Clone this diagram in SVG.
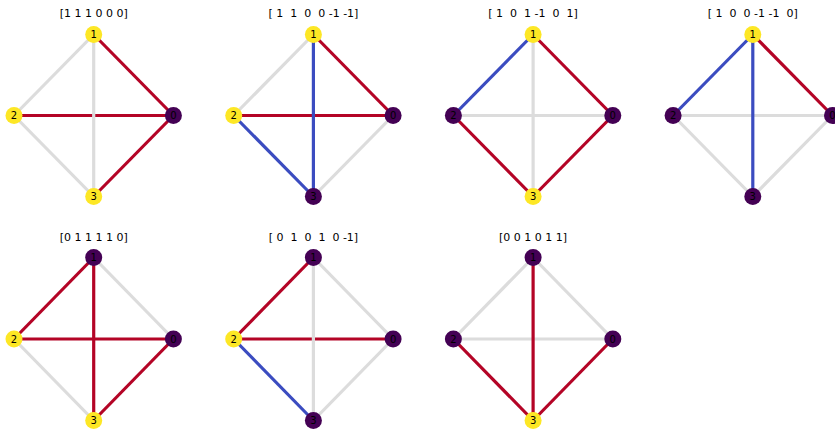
<svg xmlns="http://www.w3.org/2000/svg" width="835" height="431" viewBox="0 0 835 431">
<style>
.t{font-family:"DejaVu Sans",sans-serif;font-size:11px;fill:#000;text-anchor:middle;white-space:pre}
.l{font-family:"DejaVu Sans",sans-serif;font-size:10px;fill:#000;text-anchor:middle}
.e{stroke-width:3.2;fill:none}
.g{stroke:#dcdcdc}
.r{stroke:#b40426}
.b{stroke:#3b4cc0}
.y{fill:#fde725}
.p{fill:#440154}
</style>
<rect width="835" height="431" fill="#fff"/>
<text class="t" x="93.7" y="16.5" xml:space="preserve">[1 1 1 0 0 0]</text>
<text class="t" x="313.4" y="16.5" xml:space="preserve">[ 1  1  0  0 -1 -1]</text>
<text class="t" x="533.1" y="16.5" xml:space="preserve">[ 1  0  1 -1  0  1]</text>
<text class="t" x="752.8" y="16.5" xml:space="preserve">[ 1  0  0 -1 -1  0]</text>
<text class="t" x="93.7" y="240.5" xml:space="preserve">[0 1 1 1 1 0]</text>
<text class="t" x="313.4" y="240.5" xml:space="preserve">[ 0  1  0  1  0 -1]</text>
<text class="t" x="533.1" y="240.5" xml:space="preserve">[0 0 1 0 1 1]</text>
<g id="connectors">
<g transform="translate(93.7,115.5)">
<line class="e r" x1="79.7" y1="0" x2="0" y2="-81"/>
<line class="e r" x1="79.7" y1="0" x2="-79.7" y2="0"/>
<line class="e r" x1="79.7" y1="0" x2="0" y2="81"/>
<line class="e g" x1="0" y1="-81" x2="-79.7" y2="0"/>
<line class="e g" x1="0" y1="-81" x2="0" y2="81"/>
<line class="e g" x1="-79.7" y1="0" x2="0" y2="81"/>
</g>
<g transform="translate(313.4,115.5)">
<line class="e r" x1="79.7" y1="0" x2="0" y2="-81"/>
<line class="e r" x1="79.7" y1="0" x2="-79.7" y2="0"/>
<line class="e g" x1="79.7" y1="0" x2="0" y2="81"/>
<line class="e g" x1="0" y1="-81" x2="-79.7" y2="0"/>
<line class="e b" x1="0" y1="-81" x2="0" y2="81"/>
<line class="e b" x1="-79.7" y1="0" x2="0" y2="81"/>
</g>
<g transform="translate(533.1,115.5)">
<line class="e r" x1="79.7" y1="0" x2="0" y2="-81"/>
<line class="e g" x1="79.7" y1="0" x2="-79.7" y2="0"/>
<line class="e r" x1="79.7" y1="0" x2="0" y2="81"/>
<line class="e b" x1="0" y1="-81" x2="-79.7" y2="0"/>
<line class="e g" x1="0" y1="-81" x2="0" y2="81"/>
<line class="e r" x1="-79.7" y1="0" x2="0" y2="81"/>
</g>
<g transform="translate(752.8,115.5)">
<line class="e r" x1="79.7" y1="0" x2="0" y2="-81"/>
<line class="e g" x1="79.7" y1="0" x2="-79.7" y2="0"/>
<line class="e g" x1="79.7" y1="0" x2="0" y2="81"/>
<line class="e b" x1="0" y1="-81" x2="-79.7" y2="0"/>
<line class="e b" x1="0" y1="-81" x2="0" y2="81"/>
<line class="e g" x1="-79.7" y1="0" x2="0" y2="81"/>
</g>
<g transform="translate(93.7,339)">
<line class="e g" x1="79.7" y1="0" x2="0" y2="-81.5"/>
<line class="e r" x1="79.7" y1="0" x2="-79.7" y2="0"/>
<line class="e r" x1="79.7" y1="0" x2="0" y2="81.5"/>
<line class="e r" x1="0" y1="-81.5" x2="-79.7" y2="0"/>
<line class="e r" x1="0" y1="-81.5" x2="0" y2="81.5"/>
<line class="e g" x1="-79.7" y1="0" x2="0" y2="81.5"/>
</g>
<g transform="translate(313.4,339)">
<line class="e g" x1="79.7" y1="0" x2="0" y2="-81.5"/>
<line class="e r" x1="79.7" y1="0" x2="-79.7" y2="0"/>
<line class="e g" x1="79.7" y1="0" x2="0" y2="81.5"/>
<line class="e r" x1="0" y1="-81.5" x2="-79.7" y2="0"/>
<line class="e g" x1="0" y1="-81.5" x2="0" y2="81.5"/>
<line class="e b" x1="-79.7" y1="0" x2="0" y2="81.5"/>
</g>
<g transform="translate(533.1,339)">
<line class="e g" x1="79.7" y1="0" x2="0" y2="-81.5"/>
<line class="e g" x1="79.7" y1="0" x2="-79.7" y2="0"/>
<line class="e r" x1="79.7" y1="0" x2="0" y2="81.5"/>
<line class="e g" x1="0" y1="-81.5" x2="-79.7" y2="0"/>
<line class="e r" x1="0" y1="-81.5" x2="0" y2="81.5"/>
<line class="e r" x1="-79.7" y1="0" x2="0" y2="81.5"/>
</g>
</g>
<g id="p1">
<g id="p1n0"><circle class="p" cx="173.4" cy="115.5" r="8.5"/><text class="l" x="173.4" y="119">0</text></g>
<g id="p1n1"><circle class="y" cx="93.7" cy="34.5" r="8.5"/><text class="l" x="93.7" y="38">1</text></g>
<g id="p1n2"><circle class="y" cx="14" cy="115.5" r="8.5"/><text class="l" x="14" y="119">2</text></g>
<g id="p1n3"><circle class="y" cx="93.7" cy="196.5" r="8.5"/><text class="l" x="93.7" y="200">3</text></g>
</g>
<g id="p2">
<g id="p2n0"><circle class="p" cx="393.1" cy="115.5" r="8.5"/><text class="l" x="393.1" y="119">0</text></g>
<g id="p2n1"><circle class="y" cx="313.4" cy="34.5" r="8.5"/><text class="l" x="313.4" y="38">1</text></g>
<g id="p2n2"><circle class="y" cx="233.7" cy="115.5" r="8.5"/><text class="l" x="233.7" y="119">2</text></g>
<g id="p2n3"><circle class="p" cx="313.4" cy="196.5" r="8.5"/><text class="l" x="313.4" y="200">3</text></g>
</g>
<g id="p3">
<g id="p3n0"><circle class="p" cx="612.8" cy="115.5" r="8.5"/><text class="l" x="612.8" y="119">0</text></g>
<g id="p3n1"><circle class="y" cx="533.1" cy="34.5" r="8.5"/><text class="l" x="533.1" y="38">1</text></g>
<g id="p3n2"><circle class="p" cx="453.4" cy="115.5" r="8.5"/><text class="l" x="453.4" y="119">2</text></g>
<g id="p3n3"><circle class="y" cx="533.1" cy="196.5" r="8.5"/><text class="l" x="533.1" y="200">3</text></g>
</g>
<g id="p4">
<g id="p4n0"><circle class="p" cx="832.5" cy="115.5" r="8.5"/><text class="l" x="832.5" y="119">0</text></g>
<g id="p4n1"><circle class="y" cx="752.8" cy="34.5" r="8.5"/><text class="l" x="752.8" y="38">1</text></g>
<g id="p4n2"><circle class="p" cx="673.1" cy="115.5" r="8.5"/><text class="l" x="673.1" y="119">2</text></g>
<g id="p4n3"><circle class="p" cx="752.8" cy="196.5" r="8.5"/><text class="l" x="752.8" y="200">3</text></g>
</g>
<g id="p5">
<g id="p5n0"><circle class="p" cx="173.4" cy="339" r="8.5"/><text class="l" x="173.4" y="342.5">0</text></g>
<g id="p5n1"><circle class="p" cx="93.7" cy="257.5" r="8.5"/><text class="l" x="93.7" y="261">1</text></g>
<g id="p5n2"><circle class="y" cx="14" cy="339" r="8.5"/><text class="l" x="14" y="342.5">2</text></g>
<g id="p5n3"><circle class="y" cx="93.7" cy="420.5" r="8.5"/><text class="l" x="93.7" y="424">3</text></g>
</g>
<g id="p6">
<g id="p6n0"><circle class="p" cx="393.1" cy="339" r="8.5"/><text class="l" x="393.1" y="342.5">0</text></g>
<g id="p6n1"><circle class="p" cx="313.4" cy="257.5" r="8.5"/><text class="l" x="313.4" y="261">1</text></g>
<g id="p6n2"><circle class="y" cx="233.7" cy="339" r="8.5"/><text class="l" x="233.7" y="342.5">2</text></g>
<g id="p6n3"><circle class="p" cx="313.4" cy="420.5" r="8.5"/><text class="l" x="313.4" y="424">3</text></g>
</g>
<g id="p7">
<g id="p7n0"><circle class="p" cx="612.8" cy="339" r="8.5"/><text class="l" x="612.8" y="342.5">0</text></g>
<g id="p7n1"><circle class="p" cx="533.1" cy="257.5" r="8.5"/><text class="l" x="533.1" y="261">1</text></g>
<g id="p7n2"><circle class="p" cx="453.4" cy="339" r="8.5"/><text class="l" x="453.4" y="342.5">2</text></g>
<g id="p7n3"><circle class="y" cx="533.1" cy="420.5" r="8.5"/><text class="l" x="533.1" y="424">3</text></g>
</g>
</svg>
